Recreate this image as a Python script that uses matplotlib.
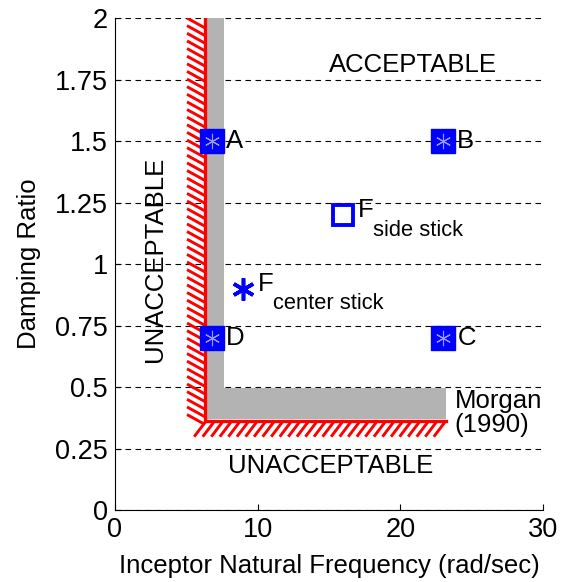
import matplotlib.pyplot as plt
import numpy as np
from matplotlib.collections import LineCollection

plt.rcParams['font.family'] = ['Liberation Sans', 'DejaVu Sans']

# pontos de teste (frequencia, amortecimento)
pt_labels = ['A', 'B', 'C', 'D']
pt_freq = [6.8, 23, 23, 6.8]
pt_zeta = [1.5, 1.5, 0.7, 0.7]

side_freq, side_zeta = 16, 1.2
center_freq, center_zeta = 9, 0.9

# fronteira Morgan (1990)
bnd_freq = [6.3, 6.3, 23.2]
bnd_zeta = [2.0, 0.363, 0.363]
gray_freq = [6.35, 7.65, 7.65, 23.2, 23.2, 6.35]
gray_zeta = [2.0, 2.0, 0.496, 0.496, 0.37, 0.37]

yticks = [0, 0.25, 0.5, 0.75, 1, 1.25, 1.5, 1.75, 2]
xticks = [0, 10, 20, 30]

fs = 18.5

fig = plt.figure(figsize=(5.65, 5.82), dpi=100)
ax = fig.add_axes([0.2035, 0.1237, 0.7575, 0.8453])

# grade horizontal tracejada
for yv in yticks:
    ax.axhline(yv, color='k', ls=(0, (5, 4)), lw=0.8, zorder=1)

ax.fill(gray_freq, gray_zeta, color='#b3b3b3', lw=0, zorder=2)

# hachuras vermelhas: "\" na vertical, "/" na horizontal
segs = []
for yv in np.arange(bnd_zeta[0] - 0.04, bnd_zeta[1] - 0.02, -0.031):
    segs.append([(bnd_freq[0], yv), (bnd_freq[0] - 1.25, yv + 0.04)])
for xv in np.arange(bnd_freq[2], bnd_freq[1], -0.6):
    segs.append([(xv, bnd_zeta[1]), (xv - 0.85, bnd_zeta[1] - 0.065)])
ax.add_collection(LineCollection(segs, colors='red', linewidths=2.1, zorder=3))
ax.plot(bnd_freq, bnd_zeta, color='red', lw=2.4, zorder=3, solid_joinstyle='miter')

# pontos
ax.plot(pt_freq, pt_zeta, 's', ms=17, mfc='blue', mec='blue', zorder=5)
ax.plot(pt_freq, pt_zeta, marker=(6, 2, 0), ms=11, color='#9a9aff', mew=0.8, ls='none', zorder=6)
for lab, fx, zy in zip(pt_labels, pt_freq, pt_zeta):
    ax.text(fx + 1.0, zy, lab, fontsize=fs, va='center', ha='left', zorder=7)

ax.plot(side_freq, side_zeta, 's', ms=15, mfc='white', mec='blue', mew=2.8, zorder=5)
ax.plot(center_freq, center_zeta, marker=(6, 2, 0), ms=16, color='blue', mew=2.6, ls='none', zorder=5)

# F com subscrito
for fx, zy, sub in [(side_freq, side_zeta, 'side stick'), (center_freq, center_zeta, 'center stick')]:
    ax.text(fx + 1.0, zy + 0.02, 'F', fontsize=fs, va='center', ha='left')
    ax.annotate(sub, xy=(fx + 1.0, zy + 0.02), xytext=(11, -7), textcoords='offset points',
                fontsize=fs * 0.85, va='top', ha='left')

ax.text(20.9, 1.81, 'ACCEPTABLE', fontsize=fs, ha='center', va='center')
ax.text(15.1, 0.18, 'UNACCEPTABLE', fontsize=fs, ha='center', va='center')
ax.text(2.8, 1.02, 'UNACCEPTABLE', fontsize=fs, ha='center', va='center', rotation=90)
ax.text(23.8, 0.395, 'Morgan\n(1990)', fontsize=fs, ha='left', va='center', linespacing=1.0)

ax.set_xlim(0, 30)
ax.set_ylim(0, 2)
ax.set_xticks(xticks)
ax.set_yticks(yticks)
ax.set_yticklabels(['0', '0.25', '0.5', '0.75', '1', '1.25', '1.5', '1.75', '2'])
ax.tick_params(direction='in', labelsize=19.5, length=4, pad=5)
ax.spines['top'].set_visible(False)
ax.spines['right'].set_visible(False)
ax.set_xlabel('Inceptor Natural Frequency (rad/sec)', fontsize=fs, labelpad=8)
ax.set_ylabel('Damping Ratio', fontsize=fs, labelpad=10)

fig.savefig('out.png', dpi=100)
